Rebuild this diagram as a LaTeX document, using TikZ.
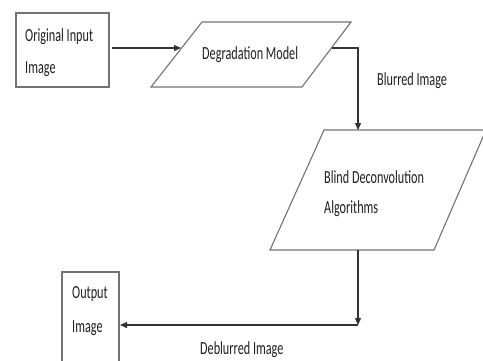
\documentclass[tikz,border=0pt]{standalone}
\usepackage{fontspec}
\setmainfont{Carlito}
\newfontfamily\narrowfont[FakeStretch=0.66]{Carlito}
\usetikzlibrary{arrows.meta}
\begin{document}
\begin{tikzpicture}[x=1pt,y=-1pt,
  lbl/.style={font=\narrowfont\fontsize{18.5}{20}\selectfont, text=black!88, inner sep=0pt, anchor=base west},
  boxline/.style={draw=black!55, line width=1.1pt},
  conn/.style={draw=black!80, line width=1.1pt},
  arr/.style={conn, -{Triangle[length=7pt,width=6pt]}}]
\useasboundingbox (0,0) rectangle (483,360);
% Original input box
\draw[boxline] (16,13) rectangle (109,87);
\node[lbl] (t1) at (25,41) {Original Input};
\node[lbl] (t1b) at (25,73) {Image};
\coordinate (inout) at (112,48);
% Degradation model parallelogram
\draw[boxline] (202,22) -- (351,22) -- (302,87) -- (151,87) -- cycle;
\node[lbl] (dm) at (202,59) {Degradation Model};
\coordinate (dmin) at (181,48);
\coordinate (dmout) at (332,48);
\coordinate (c1) at (358,48);
% Blind deconvolution parallelogram
\draw[boxline] (324,130) -- (486,130) -- (434,250) -- (270,250) -- cycle;
\node[lbl] (bd) at (324,183) {Blind Deconvolution};
\node[lbl] (bd2) at (324,213) {Algorithms};
\coordinate (bdin) at (358,130);
\coordinate (bdout) at (358,250);
\coordinate (c2) at (358,325);
% Output box
\draw[boxline] (62,272) rectangle (119,364);
\node[lbl] (o1) at (72,298) {Output};
\node[lbl] (o2) at (72,332) {Image};
\coordinate (outin) at (120,325);
% Connectors
\draw[arr] (inout) -- (dmin);
\draw[arr] (dmout) -- (c1) -- (bdin);
\draw[arr] (bdout) -- (c2);
\draw[arr] (c2) -- (outin);
% Labels
\node[lbl] (bl) at (377,85) {Blurred Image};
\node[lbl] (db) at (200,354) {Deblurred Image};
\end{tikzpicture}
\end{document}
